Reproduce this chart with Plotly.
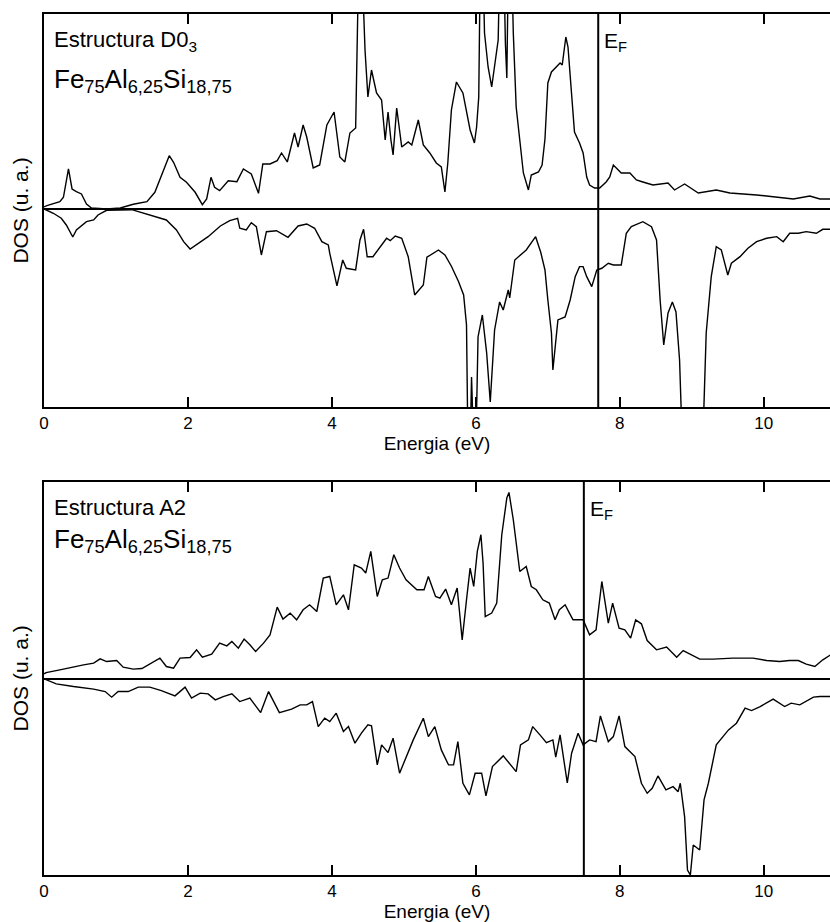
import plotly.graph_objects as go

# ---------------- data (DOS, arbitrary units) ----------------
d03_up_E = [0.00,0.04,0.22,0.27,0.34,0.39,0.45,0.52,0.59,0.66,0.87,1.06,1.24,1.43,1.54,1.63,1.74,1.80,1.89,1.98,
            2.10,2.20,2.26,2.32,2.37,2.44,2.56,2.68,2.77,2.88,2.98,3.04,3.14,3.24,3.30,3.38,3.44,3.48,3.53,3.60,
            3.65,3.74,3.83,3.93,4.03,4.11,4.18,4.25,4.33,4.35,4.37,4.42,4.46,4.50,4.55,4.62,4.69,4.74,4.78,4.82,
            4.85,4.90,4.97,5.06,5.11,5.20,5.27,5.36,5.45,5.52,5.57,5.61,5.66,5.73,5.82,5.92,5.98,6.01,6.04,6.06,
            6.10,6.12,6.17,6.22,6.26,6.31,6.33,6.39,6.41,6.43,6.45,6.50,6.52,6.56,6.61,6.66,6.73,6.77,6.87,6.92,
            6.96,7.00,7.05,7.12,7.17,7.20,7.25,7.28,7.33,7.37,7.44,7.49,7.54,7.58,7.65,7.72,7.81,7.86,7.91,8.02,
            8.14,8.23,8.32,8.46,8.67,8.76,8.90,9.09,9.34,9.53,9.90,10.13,10.41,10.64,10.78,10.95]
d03_up_V = [0.2,0.33,0.73,1.17,4.0,2.0,1.73,1.5,0.5,0.1,0.0,0.1,0.47,0.73,1.67,3.33,5.33,4.67,3.17,2.67,
            1.67,0.43,1.0,3.17,2.17,1.83,2.83,2.73,4.0,3.5,1.57,4.5,4.5,4.83,5.6,4.7,6.3,7.6,6.2,8.4,
            7.2,4.1,4.4,8.4,9.7,5.2,4.7,7.6,8.1,13.9,24,24,15.9,11.2,13.9,11.6,10.9,6.9,9.7,6.9,
            5.4,10.1,6.2,6.7,6.4,8.9,6.4,5.6,4.6,4.2,1.7,4.6,9.9,12.7,11.6,7.9,6.6,8.2,11.2,24,
            24,17.6,14.2,12.2,14.2,16.9,24,24,16.6,13.1,24,24,17.6,10.2,6.9,3.6,1.9,3.4,3.7,4.4,
            7.0,12.6,13.7,14.2,14.6,14.4,17.2,16.2,10.9,7.7,6.6,5.6,3.2,2.4,2.1,2.1,2.7,3.2,4.4,3.6,
            3.6,2.9,2.7,2.4,2.6,1.9,2.5,1.6,1.9,1.6,1.4,1.2,1.0,1.3,1.0,1.0]

d03_dn_E = [0.00,0.13,0.24,0.31,0.40,0.45,0.59,0.69,0.75,0.87,1.22,1.47,1.70,1.84,1.94,2.03,2.14,2.28,2.45,2.58,
            2.69,2.72,2.81,2.88,2.95,3.02,3.09,3.23,3.39,3.53,3.65,3.76,3.86,3.95,3.97,4.07,4.15,4.20,4.33,4.39,
            4.44,4.49,4.57,4.76,4.81,4.88,4.97,5.06,5.15,5.27,5.32,5.48,5.57,5.66,5.76,5.83,5.87,5.89,5.92,5.94,
            5.97,6.00,6.03,6.09,6.15,6.20,6.26,6.33,6.38,6.45,6.47,6.54,6.70,6.83,6.90,6.96,7.00,7.05,7.07,7.14,
            7.24,7.31,7.38,7.44,7.49,7.54,7.61,7.68,7.75,7.84,7.91,8.02,8.09,8.16,8.32,8.44,8.51,8.56,8.61,8.67,
            8.73,8.78,8.83,8.87,9.15,9.20,9.27,9.34,9.41,9.50,9.55,9.67,9.78,9.90,10.04,10.18,10.27,10.36,10.48,10.59,
            10.73,10.82,10.95]
d03_dn_V = [0.0,-0.43,-0.93,-1.6,-2.8,-2.1,-1.27,-1.1,-0.6,-0.13,-0.07,-0.6,-1.1,-2.1,-3.27,-4.0,-3.43,-2.77,-1.7,-1.17,
            -0.93,-1.93,-2.1,-1.37,-1.77,-4.6,-2.27,-2.17,-2.83,-1.7,-1.5,-1.93,-3.27,-3.6,-4.43,-7.7,-5.1,-5.93,-6.1,-3.1,
            -2.03,-4.77,-4.77,-2.93,-3.17,-2.7,-2.93,-4.77,-8.6,-7.6,-4.83,-4.1,-4.6,-5.73,-7.27,-8.6,-11.6,-24,-24,-16.8,
            -24,-24,-12.8,-10.6,-14.4,-19.3,-12.1,-9.3,-10.1,-8.1,-8.9,-5.1,-4.1,-2.77,-4.3,-6.1,-9.1,-12.4,-16.1,-11.1,
            -10.8,-9.1,-6.77,-5.77,-5.77,-6.77,-7.77,-6.1,-5.93,-5.43,-5.6,-5.6,-2.43,-1.77,-1.27,-1.77,-3.1,-9.1,-13.6,-10.4,
            -9.3,-10.3,-15.1,-24,-24,-12.4,-6.77,-3.77,-4.1,-6.6,-5.43,-4.77,-3.93,-3.27,-2.93,-2.77,-3.27,-2.43,-2.43,-2.27,
            -2.43,-2.03,-2.03]

a2_up_E = [0.00,0.03,0.22,0.41,0.55,0.69,0.78,0.87,1.01,1.10,1.24,1.36,1.50,1.61,1.70,1.80,1.89,2.03,2.12,2.20,
           2.33,2.44,2.54,2.61,2.70,2.78,2.86,2.94,3.05,3.14,3.24,3.32,3.42,3.51,3.60,3.69,3.79,3.88,3.97,4.06,
           4.16,4.23,4.31,4.41,4.47,4.54,4.63,4.70,4.78,4.86,4.94,5.03,5.18,5.28,5.34,5.44,5.50,5.58,5.66,5.74,
           5.77,5.81,5.87,5.92,5.97,6.02,6.07,6.10,6.13,6.22,6.29,6.36,6.43,6.46,6.52,6.61,6.70,6.77,6.84,6.93,
           7.02,7.10,7.16,7.24,7.30,7.35,7.49,7.58,7.67,7.75,7.84,7.90,7.99,8.07,8.15,8.22,8.30,8.38,8.51,8.65,
           8.79,8.88,9.11,9.30,9.57,9.85,10.04,10.22,10.36,10.48,10.59,10.71,10.82,10.95]
a2_up_V = [0.5,0.63,0.9,1.23,1.4,1.57,2.0,1.73,1.83,1.17,0.97,1.03,1.57,2.07,1.23,1.07,2.07,2.13,2.9,2.17,
           2.47,3.57,3.3,3.73,3.07,3.97,3.4,2.73,3.57,4.4,7.17,5.97,6.57,5.9,6.9,7.4,6.73,10.07,10.23,7.4,
           8.4,6.9,11.4,11.07,10.57,12.73,8.23,9.9,10.07,12.4,11.07,9.9,8.9,8.9,10.23,8.23,8.07,8.97,7.4,9.07,
           6.9,3.9,7.9,11.07,9.23,12.73,14.4,11.57,6.23,6.57,7.57,14.4,18.07,18.63,15.9,10.73,11.23,9.23,8.9,7.9,
           7.57,5.9,6.9,7.4,6.57,5.9,5.9,4.4,4.9,9.73,5.57,7.57,5.07,4.9,4.07,5.9,5.5,3.83,2.9,3.17,
           2.17,2.83,1.97,1.97,2.07,2.07,1.83,1.73,1.83,1.83,1.47,1.23,1.9,2.5]

a2_dn_E = [0.00,0.17,0.41,0.69,0.85,0.94,1.03,1.17,1.31,1.47,1.63,1.82,1.96,2.05,2.17,2.28,2.38,2.49,2.61,2.72,
           2.86,3.01,3.12,3.27,3.44,3.56,3.65,3.73,3.81,3.90,3.97,4.06,4.16,4.23,4.32,4.41,4.50,4.55,4.63,4.69,
           4.78,4.85,4.94,5.04,5.13,5.27,5.34,5.43,5.52,5.62,5.69,5.75,5.82,5.91,5.99,6.08,6.14,6.23,6.38,6.56,
           6.62,6.73,6.79,6.89,6.98,7.07,7.11,7.17,7.21,7.27,7.33,7.42,7.49,7.58,7.67,7.73,7.84,7.91,7.99,8.07,
           8.21,8.30,8.38,8.45,8.53,8.64,8.74,8.81,8.84,8.90,8.94,8.98,9.02,9.11,9.17,9.23,9.34,9.43,9.51,9.62,
           9.74,9.83,9.95,10.13,10.22,10.29,10.38,10.50,10.69,10.78,10.95]
a2_dn_V = [0.0,-0.5,-0.77,-1.03,-1.27,-1.83,-1.27,-1.27,-0.83,-0.83,-1.17,-1.7,-0.83,-1.93,-1.43,-1.5,-2.1,-1.77,-1.5,-2.27,
           -1.93,-3.37,-1.27,-3.37,-3.03,-2.6,-2.6,-2.27,-4.77,-3.93,-4.27,-3.43,-5.27,-4.77,-6.43,-5.43,-4.6,-4.7,-8.6,-6.6,
           -7.37,-5.93,-9.43,-7.6,-6.1,-3.93,-5.77,-4.77,-7.1,-8.6,-8.6,-6.27,-10.43,-11.6,-9.43,-9.43,-11.7,-8.77,-7.7,-9.27,
           -6.6,-6.1,-4.77,-5.6,-6.37,-6.1,-7.83,-5.6,-7.4,-10.4,-7.43,-5.43,-6.6,-6.1,-6.27,-3.7,-6.27,-5.77,-3.7,-6.77,
           -7.77,-10.43,-11.43,-10.93,-9.7,-11.1,-10.77,-11.27,-10.43,-13.77,-19.1,-19.6,-16.6,-17.1,-12.1,-10.43,-6.6,-5.77,-5.1,-4.43,
           -2.93,-3.17,-2.77,-2.03,-2.43,-2.77,-2.43,-2.6,-1.83,-1.77,-1.77]

fermi_d03 = 7.7
fermi_a2 = 7.5
x_ticks = [0, 2, 4, 6, 8, 10]
x_range = [0, 10.92]
title_d03 = "Estructura D0<sub>3</sub>"
title_a2 = "Estructura A2"
formula = "Fe<sub>75</sub>Al<sub>6,25</sub>Si<sub>18,75</sub>"
x_label = "Energia (eV)"
y_label = "DOS (u. a.)"

# ---------------- figure ----------------
FONT = "Liberation Sans, Arial, sans-serif"
NARROW = "Liberation Sans Narrow, Arial Narrow, Liberation Sans, sans-serif"
line = dict(color="black", width=1.4)

fig = go.Figure()
fig.add_trace(go.Scatter(x=d03_up_E, y=d03_up_V, mode="lines", line=line, xaxis="x2", yaxis="y2", showlegend=False))
fig.add_trace(go.Scatter(x=d03_dn_E, y=d03_dn_V, mode="lines", line=line, xaxis="x2", yaxis="y2", showlegend=False))
fig.add_trace(go.Scatter(x=a2_up_E, y=a2_up_V, mode="lines", line=line, xaxis="x", yaxis="y", showlegend=False))
fig.add_trace(go.Scatter(x=a2_dn_E, y=a2_dn_V, mode="lines", line=line, xaxis="x", yaxis="y", showlegend=False))

xcommon = dict(range=x_range, tickvals=x_ticks, ticks="inside", ticklen=10, tickwidth=1.5, tickcolor="black",
               showline=True, linecolor="black", linewidth=2, mirror="ticks", showgrid=False, zeroline=False,
               tickfont=dict(family=NARROW, size=17, color="black"),
               title=dict(text=x_label, font=dict(family=NARROW, size=19, color="black"), standoff=0))
ycommon = dict(showline=True, linecolor="black", linewidth=2, mirror=False, ticks="", showticklabels=False,
               showgrid=False, zeroline=True, zerolinecolor="black", zerolinewidth=2,
               title=dict(text=y_label, font=dict(family=FONT, size=21, color="black"), standoff=8))

fig.update_layout(
    width=830, height=922, margin=dict(l=44, r=0, t=14, b=47),
    paper_bgcolor="white", plot_bgcolor="white",
    xaxis=dict(xcommon, anchor="y", domain=[0, 1]),
    yaxis=dict(ycommon, anchor="x", domain=[0, 0.4568], range=[-19.6, 19.7]),
    xaxis2=dict(xcommon, anchor="y2", domain=[0, 1]),
    yaxis2=dict(ycommon, anchor="x2", domain=[0.5436, 1], range=[-19.8, 19.5]),
)

for xa, ya, ef in (("x2", "y2", fermi_d03), ("x", "y", fermi_a2)):
    fig.add_shape(type="line", xref=xa, yref=f"{ya} domain", x0=ef, x1=ef, y0=0, y1=1,
                  line=dict(color="black", width=2))
    fig.add_annotation(xref=xa, yref=f"{ya} domain", x=ef, y=0.967, xanchor="left", yanchor="top",
                       xshift=4, text="E<sub>F</sub>", showarrow=False,
                       font=dict(family=FONT, size=21, color="black"))

fig.add_annotation(xref="x2 domain", yref="y2 domain", x=0.01, y=0.972, xanchor="left", yanchor="top",
                   text=title_d03, showarrow=False, font=dict(family=FONT, size=22, color="black"))
fig.add_annotation(xref="x2 domain", yref="y2 domain", x=0.01, y=0.877, xanchor="left", yanchor="top",
                   text=formula, showarrow=False, font=dict(family=FONT, size=26, color="black"))
fig.add_annotation(xref="x domain", yref="y domain", x=0.01, y=0.972, xanchor="left", yanchor="top",
                   text=title_a2, showarrow=False, font=dict(family=FONT, size=22, color="black"))
fig.add_annotation(xref="x domain", yref="y domain", x=0.01, y=0.897, xanchor="left", yanchor="top",
                   text=formula, showarrow=False, font=dict(family=FONT, size=26, color="black"))

fig.write_html("out.html")
